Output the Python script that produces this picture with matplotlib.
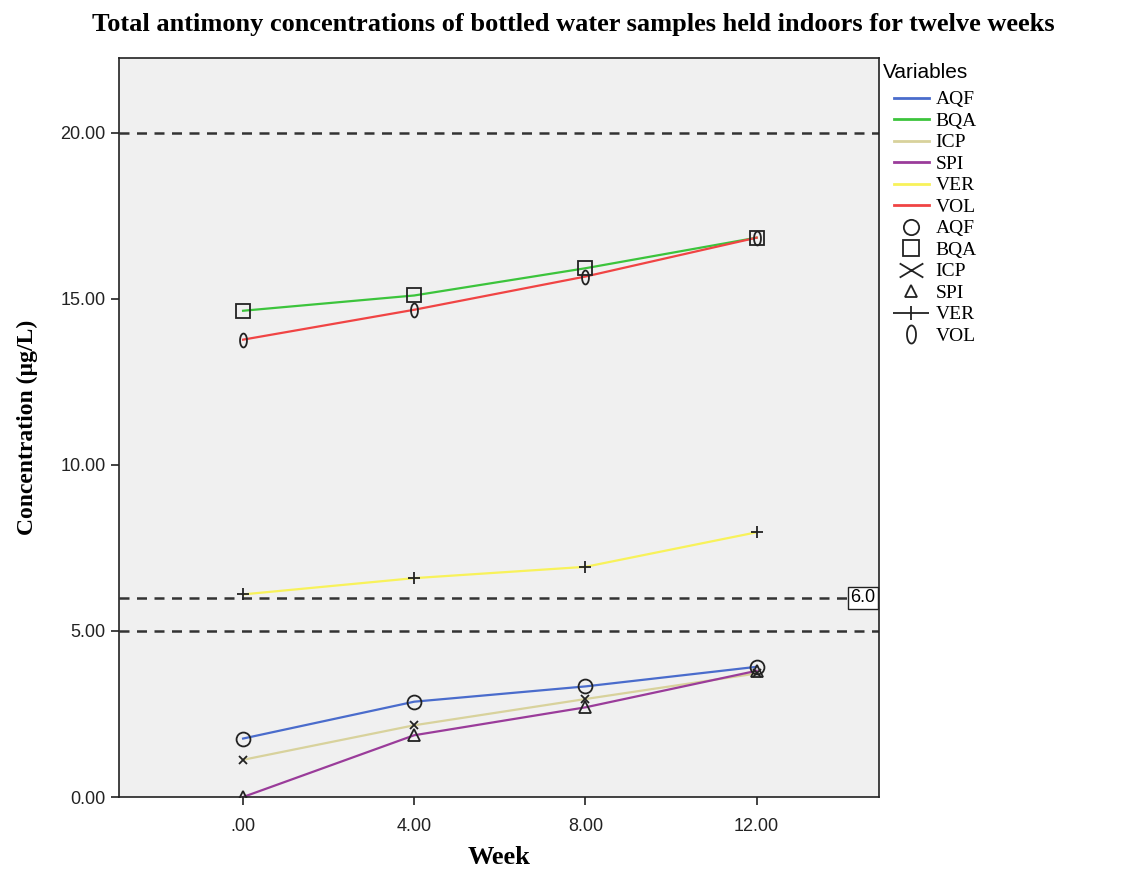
import numpy as np
import matplotlib.pyplot as plt
from matplotlib.lines import Line2D
from matplotlib.path import Path

# 数据（周，浓度 µg/L）
weeks = [0, 4, 8, 12]
series_names = ['AQF', 'BQA', 'ICP', 'SPI', 'VER', 'VOL']
aqf = [1.76, 2.87, 3.33, 3.92]
bqa = [14.64, 15.10, 15.92, 16.84]
icp = [1.12, 2.16, 2.95, 3.72]
spi = [0.00, 1.86, 2.70, 3.80]
ver = [6.10, 6.59, 6.93, 7.97]
vol = [13.77, 14.67, 15.67, 16.84]
ref_lines = [20.0, 6.0, 5.0]
x_ticks = [0, 4, 8, 12]
x_ticklabels = ['.00', '4.00', '8.00', '12.00']
y_ticks = [0, 5, 10, 15, 20]

line_colors = ['#4a6ccc', '#3cc43c', '#d8d29c', '#9a3c9a', '#f8f25a', '#f04444']

serif = ['Liberation Serif', 'DejaVu Serif']
sans = ['Liberation Sans', 'DejaVu Sans']

# 椭圆标记（VOL 的 "0"）
theta = np.linspace(0, 2 * np.pi, 40)
ellipse = Path(np.column_stack([0.5 * np.cos(theta), np.sin(theta)]))
# 图例中的宽 X 与宽 +
wide_x = Path([(-1, -0.6), (1, 0.6), (-1, 0.6), (1, -0.6)],
              [Path.MOVETO, Path.LINETO, Path.MOVETO, Path.LINETO])
wide_plus = Path([(-1, 0), (1, 0), (0, -0.4), (0, 0.4)],
                 [Path.MOVETO, Path.LINETO, Path.MOVETO, Path.LINETO])

markers = ['o', 's', 'x', '^', '+', ellipse]
marker_sizes = [10, 10, 6, 8, 9, 10]
legend_markers = ['o', 's', wide_x, '^', wide_plus, ellipse]
legend_sizes = [11, 11, 17, 9, 26, 13]


def main():
    fig = plt.figure(figsize=(11.31, 8.72), dpi=100)
    ax = fig.add_axes([0.1052, 0.086, 0.672, 0.8475])
    ax.set_facecolor('#f0f0f0')

    values = [aqf, bqa, icp, spi, ver, vol]

    # 参考虚线
    for yv in ref_lines:
        ax.axhline(yv, color='#333333', linestyle=(0, (4, 3)), linewidth=1.8, zorder=1)

    # 折线
    for vals, c in zip(values, line_colors):
        ax.plot(weeks, vals, color=c, linewidth=1.6, zorder=2)

    # 标记点
    for vals, m, ms in zip(values, markers, marker_sizes):
        ax.plot(weeks, vals, linestyle='none', marker=m, markersize=ms,
                markerfacecolor='none', markeredgecolor='#222222',
                markeredgewidth=1.3, zorder=3)

    # 6.0 标签
    ax.text(14.78, 6.0, '6.0', ha='right', va='center', fontsize=13,
            family=sans, zorder=4,
            bbox=dict(boxstyle='square,pad=0.15', facecolor='white',
                      edgecolor='#222222', linewidth=1.0))

    ax.set_xlim(-2.9, 14.86)
    ax.set_ylim(0, 22.25)
    ax.set_xticks(x_ticks)
    ax.set_xticklabels(x_ticklabels)
    ax.set_yticks(y_ticks)
    ax.set_yticklabels([f'{v:.2f}' for v in y_ticks])
    ax.tick_params(axis='both', direction='out', length=6, width=1.2,
                   labelsize=13, colors='#222222')
    ax.tick_params(axis='x', pad=9)
    for lab in ax.get_xticklabels() + ax.get_yticklabels():
        lab.set_family(sans)
    for sp in ax.spines.values():
        sp.set_color('#222222')
        sp.set_linewidth(1.2)

    ax.set_xlabel('Week', family=serif, fontweight='bold', fontsize=19, labelpad=8)
    ax.set_ylabel('Concentration (µg/L)', family=serif, fontweight='bold',
                  fontsize=17, labelpad=16)
    fig.suptitle('Total antimony concentrations of bottled water samples held indoors for twelve weeks',
                 family=serif, fontweight='bold', fontsize=19, x=0.507, y=0.985)

    # 图例：先线条后标记
    fig.text(883 / 1131, 1 - 73 / 872, 'Variables', family=sans, fontsize=15,
             ha='left', va='center')
    handles = [Line2D([], [], color=c, linewidth=2) for c in line_colors]
    handles += [Line2D([], [], linestyle='none', marker=m, markersize=ms,
                       markerfacecolor='none', markeredgecolor='#222222',
                       markeredgewidth=1.3)
                for m, ms in zip(legend_markers, legend_sizes)]
    labels = series_names + series_names
    fig.legend(handles, labels, loc='upper left',
               bbox_to_anchor=(886 / 1131, 1 - 83 / 872), frameon=False,
               handlelength=1.8, handletextpad=0.35,
               labelspacing=0.2, borderaxespad=0,
               prop={'family': serif, 'size': 14})

    fig.savefig('out.png', dpi=100)


if __name__ == '__main__':
    main()
